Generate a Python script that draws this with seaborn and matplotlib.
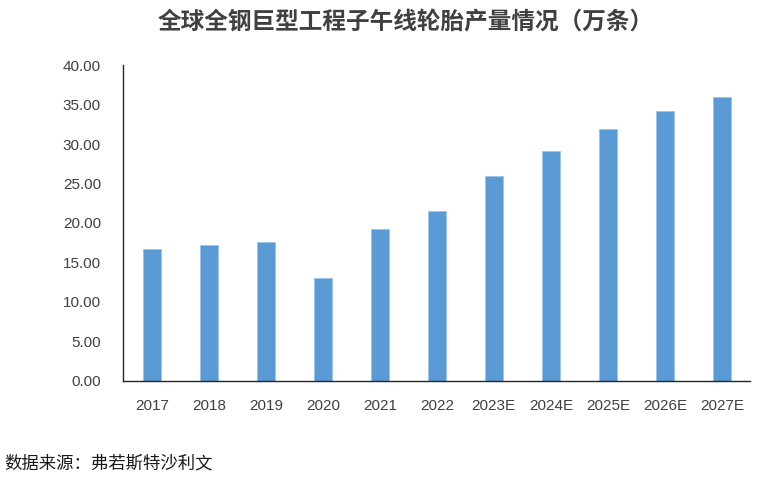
import matplotlib
matplotlib.use("Agg")
import matplotlib.pyplot as plt
import seaborn as sns
import pandas as pd

# 数据
years = ["2017", "2018", "2019", "2020", "2021", "2022",
         "2023E", "2024E", "2025E", "2026E", "2027E"]
output = [16.7, 17.2, 17.6, 13.0, 19.25, 21.5, 26.0, 29.1, 31.9, 34.2, 35.9]

title = "全球全钢巨型工程子午线轮胎产量情况（万条）"
source = "数据来源：弗若斯特沙利文"

sns.set_theme(style="white")
plt.rcParams['font.family'] = ['Liberation Sans', 'Noto Sans CJK SC', 'DejaVu Sans']

df = pd.DataFrame({"year": years, "value": output})

fig = plt.figure(figsize=(7.8, 4.79), dpi=100)
ax = fig.add_axes([0.158, 0.205, 0.804, 0.659])

sns.barplot(data=df, x="year", y="value", color="#5B9BD5", width=0.32,
            saturation=1, edgecolor="#9DC3E6", linewidth=0.6, ax=ax)

ax.set_ylim(0, 40)
ax.set_yticks(range(0, 41, 5))
ax.set_yticklabels([f"{v:.2f}" for v in range(0, 41, 5)])
ax.set_xlim(-0.5, len(years) - 0.5)
ax.set_xlabel("")
ax.set_ylabel("")

for side in ["top", "right"]:
    ax.spines[side].set_visible(False)
for side in ["left", "bottom"]:
    ax.spines[side].set_color("#262626")
    ax.spines[side].set_linewidth(1.0)

ax.tick_params(axis="y", direction="in", length=4, width=0.8, color="#262626",
               labelsize=11, labelcolor="#404040", pad=16)
ax.tick_params(axis="x", length=0, labelsize=11, labelcolor="#404040", pad=13)

fig.text(0.52, 0.954, title, ha="center", va="center", fontsize=17,
         fontweight="bold", color="#404040", family=['Noto Sans CJK SC', 'DejaVu Sans'])
fig.text(0.006, 0.033, source, ha="left", va="center", fontsize=12.5,
         color="#1a1a1a", family=['Noto Sans CJK SC', 'DejaVu Sans'])

fig.savefig("out.png", dpi=100)
